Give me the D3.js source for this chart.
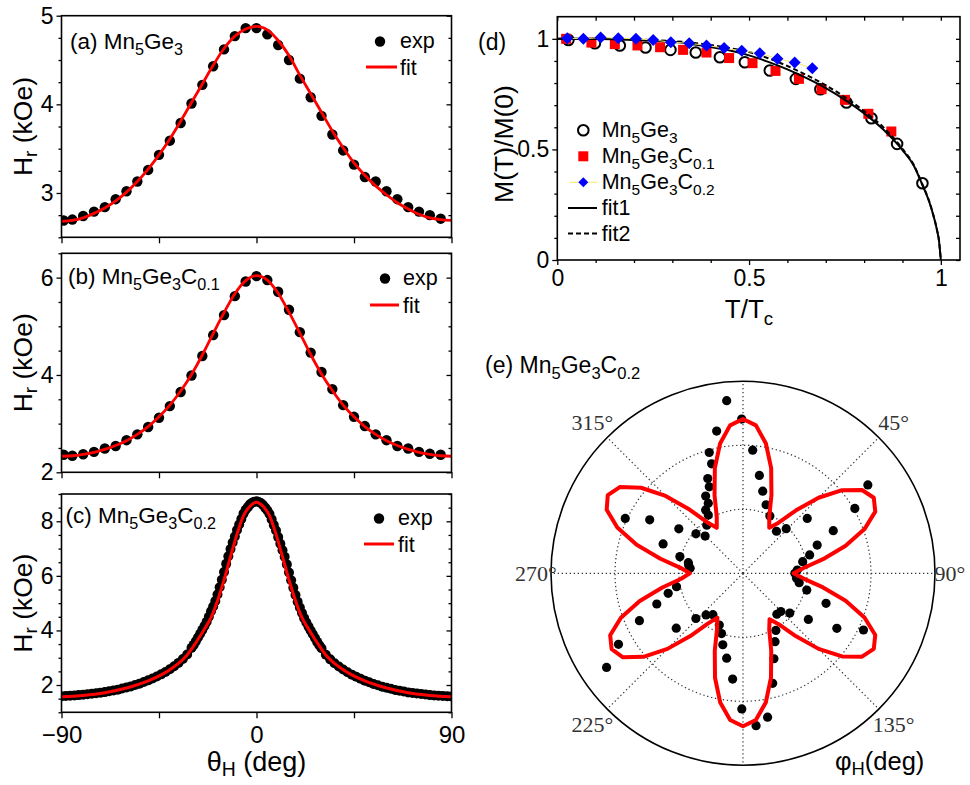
<!DOCTYPE html>
<html><head><meta charset="utf-8">
<script src="https://cdn.jsdelivr.net/npm/d3@7"></script>
<style>body{margin:0;background:#fff}svg{display:block}</style>
</head><body>
<script>
// ---------------- DATA ----------------
// Panels (a),(b): theta_H (deg)
const thetaAB = [-89,-85,-80,-75,-70,-65,-60,-55,-50,-45,-40,-35,-30,-25,-20,-15,-10,-5,0,5,10,15,20,25,30,35,40,45,50,55,60,65,70,75,80,85];
const expA = [2.69,2.70,2.74,2.79,2.84,2.93,3.02,3.13,3.26,3.43,3.59,3.79,4.01,4.22,4.43,4.62,4.77,4.86,4.86,4.79,4.67,4.50,4.29,4.08,3.87,3.66,3.48,3.32,3.18,3.13,3.02,2.93,2.84,2.79,2.75,2.71];
const expB = [2.36,2.34,2.37,2.42,2.49,2.54,2.66,2.78,2.93,3.12,3.36,3.65,3.99,4.39,4.82,5.23,5.62,5.92,6.03,5.95,5.71,5.34,4.88,4.46,4.06,3.71,3.38,3.14,2.95,2.78,2.66,2.54,2.49,2.42,2.38,2.36];
const fitThetaAB = [-90,-85,-80,-75,-70,-65,-60,-55,-50,-45,-40,-35,-30,-25,-20,-15,-10,-5,0,5,10,15,20,25,30,35,40,45,50,55,60,65,70,75,80,85,90];
const fitA = [2.68,2.69,2.72,2.77,2.83,2.91,3.01,3.13,3.27,3.43,3.61,3.81,4.02,4.23,4.44,4.63,4.77,4.85,4.88,4.84,4.72,4.55,4.33,4.12,3.91,3.70,3.51,3.34,3.20,3.08,2.98,2.89,2.82,2.76,2.72,2.70,2.69];
const fitB = [2.33,2.34,2.37,2.41,2.47,2.55,2.65,2.78,2.94,3.14,3.38,3.67,4.01,4.41,4.85,5.28,5.67,5.94,6.04,5.95,5.68,5.29,4.86,4.42,4.02,3.68,3.38,3.14,2.94,2.78,2.65,2.55,2.47,2.41,2.37,2.34,2.33];
// Panel (c)
const thetaC = [-90,-88,-86,-84,-82,-80,-78,-76,-74,-72,-70,-68,-66,-64,-62,-60,-58,-56,-54,-52,-50,-48,-46,-44,-42,-40,-38,-36,-34,-32,
 -30,-29,-28,-27,-26,-25,-24,-23,-22,-21,-20,-19,-18,-17,-16,-15,-14,-13,-12,-11,-10,-9,-8,-7,-6,-5,-4,-3,-2,-1,0,
 1,2,3,4,5,6,7,8,9,10,11,12,13,14,15,16,17,18,19,20,21,22,23,24,25,26,27,28,29,30,
 32,34,36,38,40,42,44,46,48,50,52,54,56,58,60,62,64,66,68,70,72,74,76,78,80,82,84,86,88,90];
const expC = [1.59,1.60,1.61,1.62,1.63,1.64,1.66,1.68,1.70,1.72,1.74,1.77,1.80,1.83,1.87,1.91,1.95,2.00,2.05,2.11,2.17,2.24,2.31,2.39,2.48,2.58,2.69,2.81,2.95,3.12,
 3.36,3.47,3.60,3.74,3.88,4.02,4.16,4.32,4.50,4.70,4.88,5.08,5.32,5.58,5.86,6.14,6.44,6.72,6.98,7.22,7.44,7.68,7.88,8.08,8.28,8.42,8.52,8.62,8.68,8.72,8.73,
 8.71,8.67,8.60,8.50,8.40,8.27,8.07,7.86,7.66,7.42,7.18,6.94,6.70,6.42,6.12,5.84,5.56,5.30,5.05,4.84,4.64,4.45,4.29,4.14,4.00,3.86,3.72,3.58,3.46,3.35,
 3.11,2.94,2.80,2.68,2.57,2.47,2.38,2.30,2.23,2.16,2.10,2.04,1.99,1.94,1.90,1.86,1.82,1.79,1.76,1.73,1.71,1.69,1.67,1.65,1.63,1.62,1.61,1.60,1.59,1.58];
const fitThetaC = [-90,-80,-70,-60,-50,-44,-40,-36,-32,-28,-24,-21,-18,-15,-12,-9,-6,-3,0,3,6,9,12,15,18,21,24,28,32,36,40,44,50,60,70,80,90];
const fitC = [1.57,1.62,1.72,1.89,2.15,2.37,2.56,2.79,3.10,3.55,4.05,4.47,5.09,5.85,6.70,7.53,8.21,8.55,8.70,8.55,8.21,7.53,6.70,5.85,5.09,4.47,4.05,3.55,3.10,2.79,2.56,2.37,2.15,1.89,1.72,1.62,1.57];
const thetaTicks = [-90,-45,0,45,90];
const thetaTickLabels = [-90,0,90];

// Panel (d): T/Tc vs M(T)/M(0)
const tGe3 = [0.029,0.098,0.163,0.230,0.295,0.361,0.424,0.489,0.554,0.622,0.686,0.754,0.819,0.886,0.952];
const mGe3 = [0.995,0.980,0.970,0.961,0.950,0.938,0.917,0.894,0.857,0.819,0.772,0.712,0.641,0.525,0.347];
const tC01 = [0.023,0.089,0.150,0.209,0.268,0.328,0.389,0.448,0.509,0.569,0.630,0.689,0.750,0.811,0.871];
const mC01 = [1.000,0.983,0.976,0.970,0.962,0.950,0.938,0.913,0.890,0.855,0.819,0.772,0.724,0.661,0.581];
const tC02 = [0.026,0.068,0.113,0.159,0.205,0.250,0.296,0.344,0.389,0.435,0.481,0.528,0.574,0.619,0.665];
const mC02 = [1.003,1.000,1.006,1.003,1.000,0.995,0.985,0.980,0.970,0.958,0.946,0.935,0.910,0.893,0.867];
const tFit = [0,0.1,0.2,0.3,0.4,0.45,0.5,0.55,0.6,0.65,0.7,0.75,0.8,0.85,0.9,0.93,0.95,0.97,0.98,0.99,0.995,1.0];
const mFit1 = [1.000,0.999,0.995,0.987,0.963,0.947,0.925,0.896,0.862,0.822,0.777,0.724,0.663,0.590,0.497,0.425,0.347,0.262,0.205,0.135,0.090,0.000];
const mFit2 = [1.000,1.000,0.997,0.990,0.972,0.958,0.940,0.912,0.877,0.836,0.790,0.736,0.673,0.600,0.503,0.428,0.350,0.264,0.206,0.136,0.090,0.000];
const dTicks = [0,0.5,1];

// Panel (e): polar, phi_H (deg) and radius (arb.)
const phiFit = [0,5,10,15,20,25,30,35,40,45,50,55,60,65,70,75,80,85,90,95,100,105,110,115,120,125,130,135,140,145,150,155,160,165,170,175,
 180,185,190,195,200,205,210,215,220,225,230,235,240,245,250,255,260,265,270,275,280,285,290,295,300,305,310,315,320,325,330,335,340,345,350,355];
const rFit = [2.41,2.32,2.06,1.70,1.30,0.97,0.82,0.96,1.28,1.67,2.02,2.27,2.36,2.28,2.02,1.66,1.27,0.95,0.79,0.95,1.27,1.66,2.02,2.28,2.36,2.27,2.02,1.67,1.28,0.97,0.83,0.97,1.29,1.69,2.05,2.30,
 2.39,2.30,2.05,1.69,1.29,0.96,0.80,0.96,1.28,1.67,2.03,2.29,2.37,2.29,2.03,1.67,1.28,0.97,0.83,0.98,1.31,1.72,2.09,2.35,2.44,2.35,2.08,1.71,1.30,0.97,0.82,0.97,1.30,1.70,2.06,2.32];
const phiExp = [354.6,359.5,349.5,4.5,344.4,344,9.5,339.6,338.7,13.5,334.2,333.6,18.6,329.5,329.2,25.1,323,310,314.5,38.5,44.1,49.5,64.7,59.9,54.7,69.2,74.6,79,86.5,
 295,299.8,304.7,290.2,284.8,281,275.4,278.6,258.6,255,250.4,245.4,240.3,235.4,230.6,226.2,221.6,216,204.6,199.6,195.8,190.9,185.6,180.5,175.1,170.3,164.9,160.1,154.9,150.1,
 140.4,135.3,130.4,125.2,120.4,115.2,109.9,104.7,99.5,95.3,90];
const rExp = [2.71,2.41,2.26,1.93,1.96,1.78,1.55,1.58,1.45,1.32,1.34,1.22,1.13,1.15,1.06,0.99,0.94,0.96,0.83,0.84,0.97,1.32,1.56,2.02,2.39,1.24,1.08,0.95,0.85,
 2.03,1.68,1.22,1.33,1.02,0.87,0.83,0.86,1.06,1.21,1.43,1.78,2.24,2.59,1.35,1.02,0.87,0.80,0.89,1.00,1.16,1.35,1.66,2.12,2.39,2.28,1.78,1.42,1.18,1.03,
 0.83,0.84,0.96,1.25,1.70,2.08,1.38,1.03,0.89,0.84,0.81];
const polarRings = [1,2];
const polarSpokes = [0,45,90,135,180,225,270,315];
const polarLabels = [45,90,135,225,270,315];

// ---------------- DRAWING ----------------
const SANS = '"Liberation Sans", Arial, Helvetica, sans-serif';
const SERIF = '"Liberation Serif", "DejaVu Serif", serif';
const svg = d3.select('body').append('svg').attr('width',970).attr('height',785);

function rich(sel, parts, size, shiftK){
  let cur = 0;
  const k = shiftK==null ? 0.25 : shiftK;
  parts.forEach(p=>{
    const sub = Array.isArray(p);
    const s = sub ? p[0] : p;
    const off = sub ? size*k : 0;
    const ts = sel.append('tspan').text(s).attr('dy',(off-cur).toFixed(2));
    if(sub) ts.attr('font-size',(size*0.72).toFixed(1));
    cur = off;
  });
  return sel;
}
function txt(x,y,size,parts,opts={}){
  const t = svg.append('text').attr('x',x).attr('y',y).attr('font-family',opts.family||SANS)
    .attr('font-size',size).attr('fill',opts.fill||'#000');
  if(opts.anchor) t.attr('text-anchor',opts.anchor);
  if(opts.rotate) t.attr('transform',`rotate(-90,${x},${y})`);
  rich(t,parts,size,opts.shift);
  return t;
}
function styleAxis(g,fs){
  g.select('.domain').remove();
  g.attr('font-family',SANS).attr('font-size',fs);
  g.selectAll('line').attr('stroke','#000').attr('stroke-width',1.3);
  g.selectAll('text').attr('fill','#000');
}
function frame(x0,y0,x1,y1){
  svg.append('rect').attr('x',x0).attr('y',y0).attr('width',x1-x0).attr('height',y1-y0)
    .attr('fill','none').attr('stroke','#000').attr('stroke-width',1.6);
}
const diamondPath = s => `M0,${-s}L${s},0L0,${s}L${-s},0Z`;

// ---- panels (a)-(c)
const PX0 = 61.5, PX1 = 451.5;
const panels = [
  {y0:15.7,y1:237.3,dom:[2.5,5.0],major:[3,4,5],minor:0.25,theta:thetaAB,exp:expA,fitT:fitThetaAB,fit:fitA,
   title:['(a) Mn',['5'],'Ge',['3']],tx:70,ty:49,ey:48,fy:75,lx:[380,400,366,397],lab:false,r:5.2,lw:2.8},
  {y0:253.3,y1:472.3,dom:[2,6.5],major:[2,4,6],minor:0.5,theta:thetaAB,exp:expB,fitT:fitThetaAB,fit:fitB,
   title:['(b) Mn',['5'],'Ge',['3'],'C',['0.1']],tx:68,ty:284,ey:285,fy:313,lx:[385,403,370,399],lab:false,r:5.2,lw:2.8},
  {y0:494,y1:712.3,dom:[1,9],major:[2,4,6,8],minor:0.5,theta:thetaC,exp:expC,fitT:fitThetaC,fit:fitC,
   title:['(c) Mn',['5'],'Ge',['3'],'C',['0.2']],tx:65.5,ty:523,ey:525,fy:552,lx:[379,398,364,394],lab:true,r:5,lw:3}
];
panels.forEach(p=>{
  const x = d3.scaleLinear().domain([-90,90]).range([PX0,PX1]);
  const y = d3.scaleLinear().domain(p.dom).range([p.y1,p.y0]);
  const minorT = d3.range(p.dom[0],p.dom[1]+1e-9,p.minor).filter(v=>!p.major.some(m=>Math.abs(m-v)<1e-9));
  styleAxis(svg.append('g').attr('transform',`translate(${PX0},0)`)
    .call(d3.axisLeft(y).tickValues(p.major).tickSize(5).tickSizeOuter(0).tickPadding(3).tickFormat(d3.format('d'))),23);
  styleAxis(svg.append('g').attr('transform',`translate(${PX0},0)`)
    .call(d3.axisLeft(y).tickValues(minorT).tickSize(3).tickSizeOuter(0).tickFormat('')),23);
  styleAxis(svg.append('g').attr('transform',`translate(${PX1},0)`)
    .call(d3.axisLeft(y).tickValues(p.major).tickSize(5).tickSizeOuter(0).tickFormat('')),23);
  styleAxis(svg.append('g').attr('transform',`translate(${PX1},0)`)
    .call(d3.axisLeft(y).tickValues(minorT).tickSize(3).tickSizeOuter(0).tickFormat('')),23);
  styleAxis(svg.append('g').attr('transform',`translate(0,${p.y1})`)
    .call(d3.axisBottom(x).tickValues(thetaTicks).tickSize(6).tickSizeOuter(0).tickPadding(8)
      .tickFormat(d=> p.lab && thetaTickLabels.includes(d) ? d3.format('d')(d) : '')),24);
  const clipId = 'clip'+Math.round(p.y0);
  svg.append('clipPath').attr('id',clipId).append('rect').attr('x',PX0).attr('y',p.y0).attr('width',PX1-PX0).attr('height',p.y1-p.y0);
  const g = svg.append('g').attr('clip-path',`url(#${clipId})`);
  g.selectAll('circle').data(p.theta.map((t,i)=>[t,p.exp[i]])).enter().append('circle')
    .attr('cx',d=>x(d[0])).attr('cy',d=>y(d[1])).attr('r',p.r).attr('fill','#000');
  g.append('path').datum(p.fitT.map((t,i)=>[t,p.fit[i]]))
    .attr('d',d3.line().x(d=>x(d[0])).y(d=>y(d[1])).curve(d3.curveMonotoneX))
    .attr('fill','none').attr('stroke','#f00').attr('stroke-width',p.lw);
  frame(PX0,p.y0,PX1,p.y1);
  txt(p.tx,p.ty,22.5,p.title);
  svg.append('circle').attr('cx',p.lx[0]).attr('cy',p.ey-6.5).attr('r',5.2).attr('fill','#000');
  txt(p.lx[1],p.ey,21.5,['exp']);
  svg.append('line').attr('x1',p.lx[2]).attr('x2',p.lx[3]).attr('y1',p.fy-8).attr('y2',p.fy-8).attr('stroke','#f00').attr('stroke-width',3);
  txt(p.lx[1],p.fy,21.5,['fit']);
  txt(32,(p.y0+p.y1)/2,26.5,['H',['r'],' (kOe)'],{anchor:'middle',rotate:true,shift:0.18});
});
txt((PX0+PX1)/2,771,27,['θ',['H'],' (deg)'],{anchor:'middle',shift:0.2});

// ---- panel (d)
const DX0=557.3, DX1=960, DY0=16.7, DY1=260;
const xd = d3.scaleLinear().domain([0,1.05]).range([DX0,DX1]);
const yd = d3.scaleLinear().domain([0,1.1]).range([DY1,DY0]);
const dMinorX = d3.range(0.1,1.05,0.1).filter(v=>Math.abs(v-0.5)>1e-6 && Math.abs(v-1)>1e-6);
const dMinorY = d3.range(0.1,1.1,0.1).filter(v=>Math.abs(v-0.5)>1e-6 && Math.abs(v-1)>1e-6);
const fmtD = d=> d===0.5 ? '0.5' : d3.format('d')(d);
styleAxis(svg.append('g').attr('transform',`translate(${DX0},0)`).call(d3.axisLeft(yd).tickValues(dTicks).tickSize(5).tickSizeOuter(0).tickPadding(3).tickFormat(fmtD)),23);
styleAxis(svg.append('g').attr('transform',`translate(${DX0},0)`).call(d3.axisLeft(yd).tickValues(dMinorY).tickSize(3).tickSizeOuter(0).tickFormat('')),23);
styleAxis(svg.append('g').attr('transform',`translate(${DX1},0)`).call(d3.axisLeft(yd).tickValues(dTicks.concat(dMinorY)).tickSize(4).tickSizeOuter(0).tickFormat('')),23);
styleAxis(svg.append('g').attr('transform',`translate(0,${DY1})`).call(d3.axisBottom(xd).tickValues(dTicks).tickSize(5).tickSizeOuter(0).tickPadding(5).tickFormat(fmtD)),23);
styleAxis(svg.append('g').attr('transform',`translate(0,${DY1})`).call(d3.axisBottom(xd).tickValues(dMinorX).tickSize(3).tickSizeOuter(0).tickFormat('')),23);
styleAxis(svg.append('g').attr('transform',`translate(0,${DY0})`).call(d3.axisBottom(xd).tickValues(dTicks.concat(dMinorX)).tickSize(4).tickSizeOuter(0).tickFormat('')),23);

const gd = svg.append('g');
gd.selectAll('circle.ge3').data(tGe3.map((t,i)=>[t,mGe3[i]])).enter().append('circle')
  .attr('cx',d=>xd(d[0])).attr('cy',d=>yd(d[1])).attr('r',5.3).attr('fill','none').attr('stroke','#000').attr('stroke-width',2);
gd.selectAll('rect.c01').data(tC01.map((t,i)=>[t,mC01[i]])).enter().append('rect')
  .attr('x',d=>xd(d[0])-5).attr('y',d=>yd(d[1])-5).attr('width',10).attr('height',10).attr('fill','#f00');
const lineD = d3.line().x(d=>xd(d[0])).y(d=>yd(d[1])).curve(d3.curveMonotoneX);
gd.append('path').datum(tFit.map((t,i)=>[t,mFit1[i]])).attr('d',lineD).attr('fill','none').attr('stroke','#000').attr('stroke-width',2);
gd.append('path').datum(tFit.map((t,i)=>[t,mFit2[i]])).attr('d',lineD).attr('fill','none').attr('stroke','#000').attr('stroke-width',2).attr('stroke-dasharray','5,3');
gd.append('path').datum(tC02.map((t,i)=>[t,mC02[i]])).attr('d',d3.line().x(d=>xd(d[0])).y(d=>yd(d[1])))
  .attr('fill','none').attr('stroke','#f2e86a').attr('stroke-width',1);
gd.selectAll('path.c02').data(tC02.map((t,i)=>[t,mC02[i]])).enter().append('path')
  .attr('d',diamondPath(6)).attr('transform',d=>`translate(${xd(d[0])},${yd(d[1])})`).attr('fill','#0000ff');
frame(DX0,DY0,DX1,DY1);
txt(478,50,23,['(d)']);
txt(513,144,26.5,['M(T)/M(0)'],{anchor:'middle',rotate:true});
txt(749,318,26,['T/T',['c']],{anchor:'middle'});
const LX = 583.3, LT = 601.7, rows=[137.3,163.3,189.3,215,240.5];
svg.append('circle').attr('cx',LX).attr('cy',rows[0]-7).attr('r',5.3).attr('fill','none').attr('stroke','#000').attr('stroke-width',2);
txt(LT,rows[0],21.5,['Mn',['5'],'Ge',['3']]);
svg.append('rect').attr('x',LX-5).attr('y',rows[1]-12).attr('width',10).attr('height',10).attr('fill','#f00');
txt(LT,rows[1],21.5,['Mn',['5'],'Ge',['3'],'C',['0.1']]);
svg.append('line').attr('x1',LX-14).attr('x2',LX+14).attr('y1',rows[2]-7).attr('y2',rows[2]-7).attr('stroke','#f2e86a').attr('stroke-width',1);
svg.append('path').attr('d',diamondPath(5)).attr('transform',`translate(${LX},${rows[2]-7})`).attr('fill','#0000ff');
txt(LT,rows[2],21.5,['Mn',['5'],'Ge',['3'],'C',['0.2']]);
svg.append('line').attr('x1',568).attr('x2',597).attr('y1',rows[3]-7).attr('y2',rows[3]-7).attr('stroke','#000').attr('stroke-width',2);
txt(LT,rows[3],21.5,['fit1']);
svg.append('line').attr('x1',568).attr('x2',597).attr('y1',rows[4]-7).attr('y2',rows[4]-7).attr('stroke','#000').attr('stroke-width',2).attr('stroke-dasharray','5,3');
txt(LT,rows[4],21.5,['fit2']);

// ---- panel (e) polar
const CX = 743, CY = 573.3;
const rs = d3.scaleLinear().domain([0,3]).range([0,192]);
const rad = d=> d*Math.PI/180;
const gp = svg.append('g').attr('transform',`translate(${CX},${CY})`);
polarRings.forEach(v=> gp.append('circle').attr('r',rs(v)).attr('fill','none').attr('stroke','#333').attr('stroke-width',1.2).attr('stroke-dasharray','1.3,2.7'));
polarSpokes.forEach(a=> gp.append('line').attr('x1',0).attr('y1',0)
  .attr('x2',rs(3)*Math.sin(rad(a))).attr('y2',-rs(3)*Math.cos(rad(a)))
  .attr('stroke','#333').attr('stroke-width',1.2).attr('stroke-dasharray','1.3,2.7'));
gp.append('circle').attr('r',rs(3)).attr('fill','none').attr('stroke','#000').attr('stroke-width',1.6);
gp.selectAll('circle.e').data(phiExp.map((a,i)=>[a,rExp[i]])).enter().append('circle')
  .attr('cx',d=>rs(d[1])*Math.sin(rad(d[0]))).attr('cy',d=>-rs(d[1])*Math.cos(rad(d[0]))).attr('r',4.6).attr('fill','#000');
gp.append('path').datum(phiFit.map((a,i)=>[rad(a),rFit[i]]))
  .attr('d',d3.lineRadial().angle(d=>d[0]).radius(d=>rs(d[1])).curve(d3.curveLinearClosed))
  .attr('fill','none').attr('stroke','#f00').attr('stroke-width',4).attr('stroke-linejoin','round');
polarLabels.forEach(a=>{
  const rr = (a%90===0) ? 207 : 213;
  svg.append('text').attr('x',CX+rr*Math.sin(rad(a))).attr('y',CY-rr*Math.cos(rad(a)))
    .attr('text-anchor','middle').attr('dy','0.35em').attr('font-family',SERIF).attr('font-size',22).attr('fill','#333')
    .text(a+'°');
});
txt(485,373,23,['(e) Mn',['5'],'Ge',['3'],'C',['0.2']]);
txt(835,770,25.5,['φ',['H'],'(deg)'],{shift:0.2});
</script>
</body></html>
